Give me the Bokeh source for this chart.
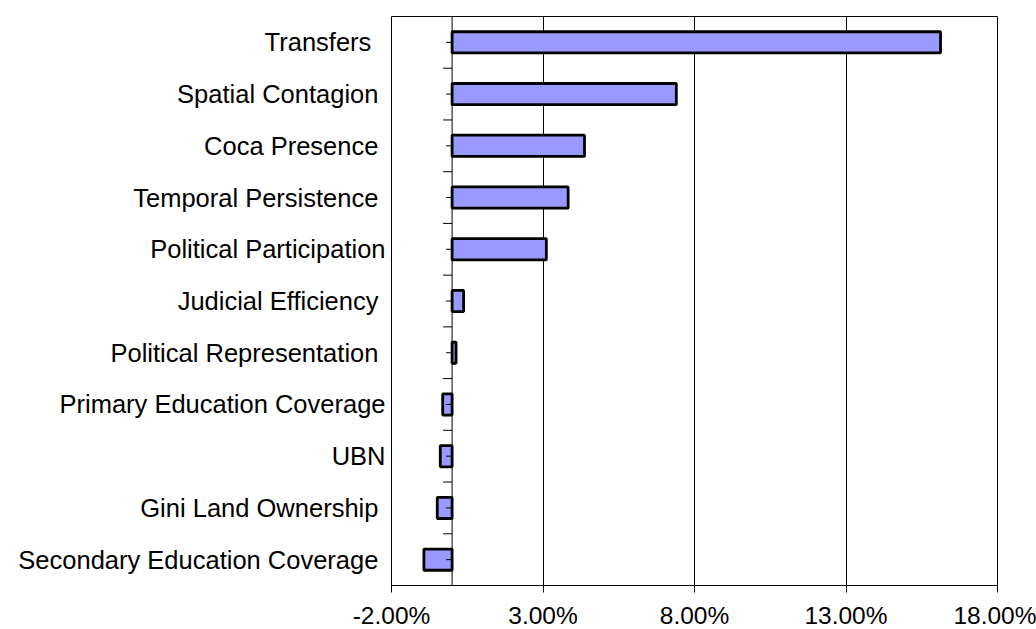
from bokeh.plotting import figure
from bokeh.models import FixedTicker, Span, Range1d, ColumnDataSource
from bokeh.embed import file_html
from bokeh.resources import INLINE

# Data (top to bottom in the chart)
categories = ["Transfers", "Spatial Contagion", "Coca Presence", "Temporal Persistence",
              "Political Participation", "Judicial Efficiency", "Political Representation",
              "Primary Education Coverage", "UBN", "Gini Land Ownership",
              "Secondary Education Coverage"]
trailing_spaces = [2, 1, 1, 1, 0, 1, 1, 0, 0, 1, 1]
values = [16.12, 7.40, 4.37, 3.83, 3.11, 0.38, 0.13, -0.31, -0.39, -0.49, -0.93]
x_ticks = [-2, 3, 8, 13, 18]
x_tick_labels = ["-2.00%", "3.00%", "8.00%", "13.00%", "18.00%"]

n = len(categories)
ypos = [n - 1 - i for i in range(n)]

FONT = "Liberation Sans"
FS = "25.5px"

p = figure(frame_width=606, frame_height=569, output_backend="svg", toolbar_location=None,
           x_range=Range1d(x_ticks[0], x_ticks[-1]), y_range=Range1d(-0.5, n - 0.5),
           min_border_left=391, min_border_right=39, min_border_top=16, min_border_bottom=44)
p.background_fill_color = "white"
p.border_fill_color = "white"
p.outline_line_color = "black"
p.outline_line_width = 1

# grid
p.ygrid.grid_line_color = None
p.xgrid.ticker = FixedTicker(ticks=x_ticks)
p.xgrid.grid_line_color = "black"
p.xgrid.grid_line_width = 1

# x axis
p.xaxis.ticker = FixedTicker(ticks=x_ticks)
p.xaxis.major_label_overrides = {t: l for t, l in zip(x_ticks, x_tick_labels)}
p.xaxis.major_label_text_font = FONT
p.xaxis.major_label_text_font_size = "24.5px"
p.xaxis.major_label_text_color = "black"
p.xaxis.major_tick_out = 7
p.xaxis.major_tick_in = 0
p.xaxis.minor_tick_line_color = None
p.xaxis.axis_line_color = "black"
p.xaxis.major_tick_line_color = "black"
p.xaxis.major_label_standoff = 9

# y axis: labels only
p.yaxis.ticker = FixedTicker(ticks=ypos)
p.yaxis.major_label_overrides = {y: c + "\u00a0" * s for y, c, s in zip(ypos, categories, trailing_spaces)}
p.yaxis.major_label_text_font = FONT
p.yaxis.major_label_text_font_size = FS
p.yaxis.major_label_text_color = "black"
p.yaxis.axis_line_color = None
p.yaxis.major_tick_line_color = None
p.yaxis.minor_tick_line_color = None
p.yaxis.major_label_standoff = 0

src = ColumnDataSource(dict(y=ypos, v=values, z=[0] * n))
p.hbar(y="y", left="z", right="v", height=0.41, source=src,
       fill_color="#9999FF", line_color="black", line_width=2.8)

# category axis at zero with ticks
p.add_layout(Span(location=0, dimension="height", line_color="black", line_width=1))
bounds = [i - 0.5 for i in range(n + 1)]
px_per_unit = 606 / (x_ticks[-1] - x_ticks[0])
p.segment(x0=[-9 / px_per_unit] * len(bounds), x1=[0] * len(bounds), y0=bounds, y1=bounds,
          line_color="black", line_width=1)
p.segment(x0=[-6 / px_per_unit] * n, x1=[0] * n, y0=ypos, y1=ypos,
          line_color="black", line_width=1)

open("out.html", "w").write(file_html(p, INLINE))
